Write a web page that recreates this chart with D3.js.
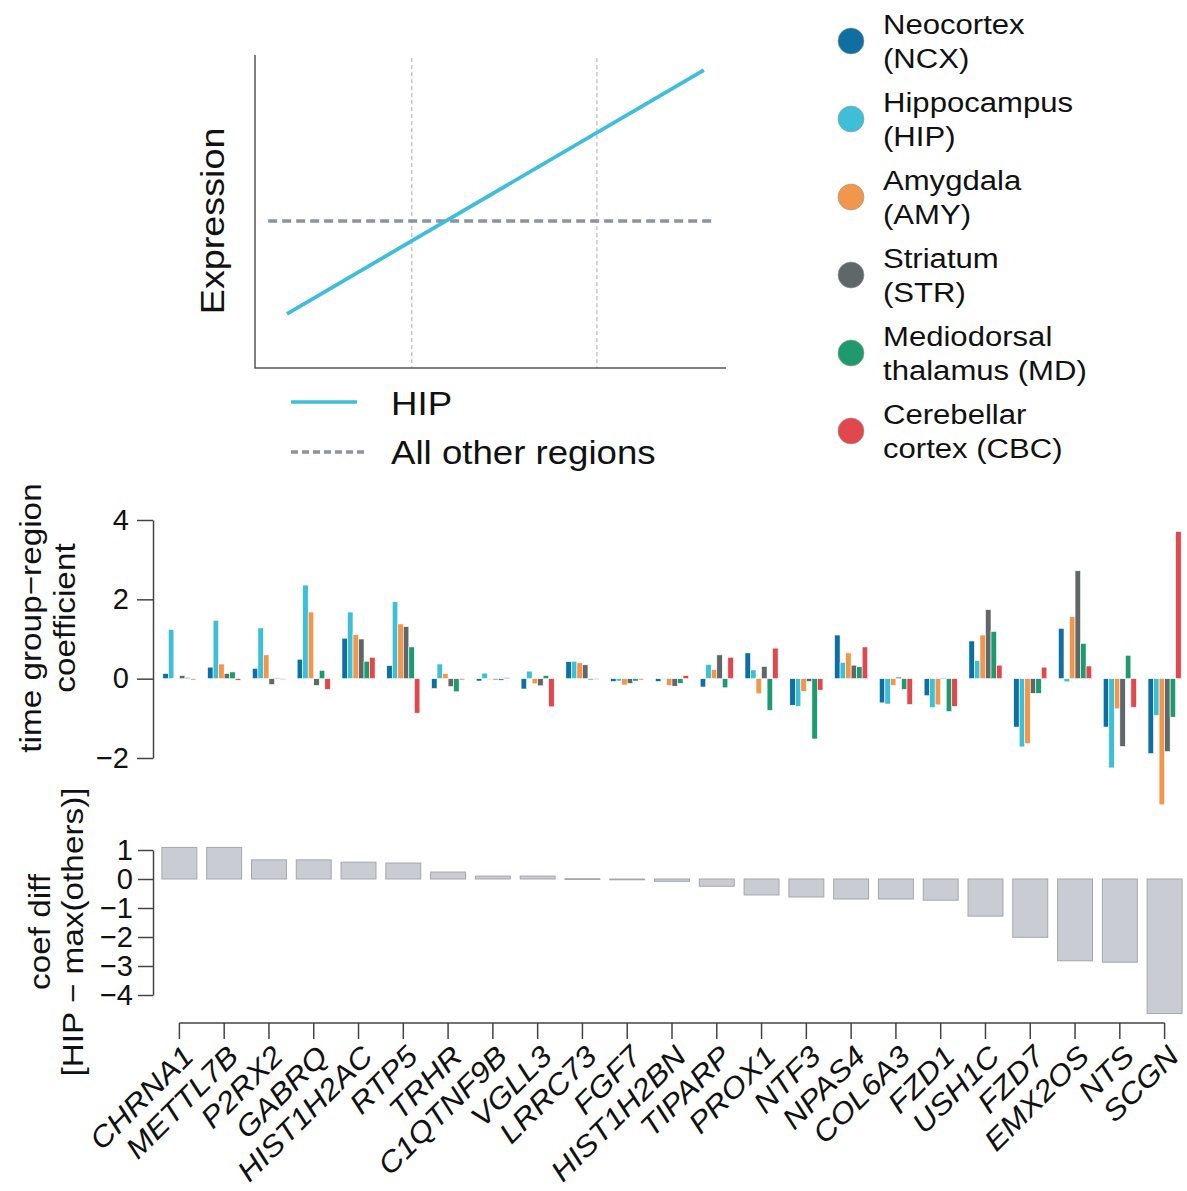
<!DOCTYPE html>
<html>
<head>
<meta charset="utf-8">
<script src="https://cdn.jsdelivr.net/npm/d3@7"></script>
<style>
  body { margin: 0; background: #fff; }
  text { font-family: "Liberation Sans", Arial, Helvetica, sans-serif; fill: #111; }
  .axis path, .axis line { stroke: #444; stroke-width: 1.5; }
</style>
</head>
<body>
<div id="chart"></div>
<script>
// genes along the x axis
var genes = ["CHRNA1", "METTL7B", "P2RX2", "GABRQ", "HIST1H2AC", "RTP5", "TRHR", "C1QTNF9B",
  "VGLL3", "LRRC73", "FGF7", "HIST1H2BN", "TIPARP", "PROX1", "NTF3", "NPAS4", "COL6A3",
  "FZD1", "USH1C", "FZD7", "EMX2OS", "NTS", "SCGN"];

// regions and legend labels
var regions = ["NCX", "HIP", "AMY", "STR", "MD", "CBC"];
var regionLines = [["Neocortex", "(NCX)"], ["Hippocampus", "(HIP)"], ["Amygdala", "(AMY)"],
  ["Striatum", "(STR)"], ["Mediodorsal", "thalamus (MD)"], ["Cerebellar", "cortex (CBC)"]];
var regionColors = ["#0f6fa0", "#3ebfd7", "#f0974b", "#5f6769", "#1f9a6f", "#e0484d"];

// time group-region coefficient per region (same order as genes)
var ncx = [0.13, 0.29, 0.26, 0.49, 1.02, 0.33, -0.25, -0.06, -0.26, 0.43, -0.07, -0.07, -0.21, 0.65, -0.67, 1.10, -0.61, -0.43, 0.95, -1.22, 1.27, -1.22, -1.89];
var hip = [1.24, 1.47, 1.28, 2.36, 1.68, 1.94, 0.37, 0.14, 0.19, 0.44, -0.06, -0.02, 0.36, 0.22, -0.70, 0.41, -0.64, -0.73, 0.46, -1.72, -0.08, -2.25, -0.93];
var amy = [-0.01, 0.37, 0.60, 1.68, 1.11, 1.38, 0.13, -0.02, -0.13, 0.40, -0.16, -0.17, 0.23, -0.38, -0.32, 0.65, -0.17, -0.66, 1.10, -1.64, 1.56, -0.76, -3.18];
var str = [0.08, 0.13, -0.15, -0.17, 1.00, 1.31, -0.20, -0.03, -0.18, 0.35, -0.12, -0.19, 0.60, 0.31, -0.07, 0.34, 0.04, 0.02, 1.74, -0.37, 2.72, -1.71, -1.84];
var md = [0.03, 0.17, 0.02, 0.21, 0.44, 0.80, -0.33, -0.04, 0.08, -0.03, -0.06, -0.12, -0.23, -0.80, -1.52, 0.30, -0.27, -0.83, 1.19, -0.37, 0.89, 0.59, -0.97];
var cbc = [-0.03, -0.04, -0.02, -0.27, 0.54, -0.87, -0.03, 0.03, -0.71, -0.02, -0.03, 0.08, 0.54, 0.77, -0.29, 0.80, -0.65, -0.70, 0.34, 0.29, 0.32, -0.72, 3.71];
var coefs = [ncx, hip, amy, str, md, cbc];

// coef diff: HIP - max(others)
var coefDiff = [1.09, 1.09, 0.66, 0.66, 0.58, 0.55, 0.24, 0.10, 0.10, 0.01, -0.01, -0.08, -0.25, -0.55, -0.62, -0.69, -0.69, -0.73, -1.28, -2.01, -2.82, -2.87, -4.64];

// tick labels
var topTicks = [-2, 0, 2, 4];
var bottomTicks = [-4, -3, -2, -1, 0, 1];

// schematic (relative units 0..1)
var hipLineX = [0.068, 0.953];
var hipLineY = [0.173, 0.952];
var othersX = [0.028, 0.972];
var othersY = [0.47, 0.47];
var timeBreaks = [0.333, 0.726];

var svgWidth = 1187;
var svgHeight = 1191;
var font = "'Liberation Sans', Arial, Helvetica, sans-serif";
// the original lettering is a bit wider than Arial
var stretch = "scale(1.11, 1)";

var svg = d3.select("#chart").append("svg")
  .attr("width", svgWidth)
  .attr("height", svgHeight);

// ---------- schematic ----------
var sx = d3.scaleLinear().domain([0, 1]).range([255, 726]);
var sy = d3.scaleLinear().domain([0, 1]).range([368, 55]);
var schem = svg.append("g");

timeBreaks.forEach(function(t) {
  schem.append("line")
    .attr("x1", sx(t)).attr("x2", sx(t))
    .attr("y1", sy(0.99)).attr("y2", sy(0))
    .attr("stroke", "#aaa").attr("stroke-width", 1)
    .attr("stroke-dasharray", "4,3");
});

schem.append("path")
  .attr("d", `M${sx(0)},${sy(1)}V${sy(0)}H${sx(1)}`)
  .attr("fill", "none").attr("stroke", "#555").attr("stroke-width", 1.5);

schem.append("line")
  .attr("x1", sx(othersX[0])).attr("x2", sx(othersX[1]))
  .attr("y1", sy(othersY[0])).attr("y2", sy(othersY[1]))
  .attr("stroke", "#8a949e").attr("stroke-width", 3.5)
  .attr("stroke-dasharray", "9,5");

schem.append("line")
  .attr("x1", sx(hipLineX[0])).attr("x2", sx(hipLineX[1]))
  .attr("y1", sy(hipLineY[0])).attr("y2", sy(hipLineY[1]))
  .attr("stroke", regionColors[1]).attr("stroke-width", 3.8);

schem.append("text")
  .attr("transform", `translate(${224}, ${sy(0.47)}) rotate(-90) ${stretch}`)
  .attr("text-anchor", "middle")
  .style("font-size", "34px")
  .text("Expression");

// schematic legend
schem.append("line")
  .attr("x1", 291).attr("x2", 357).attr("y1", 402).attr("y2", 402)
  .attr("stroke", regionColors[1]).attr("stroke-width", 3.5);
schem.append("text").attr("transform", `translate(391, 415) ${stretch}`)
  .style("font-size", "33px").text("HIP");
schem.append("line")
  .attr("x1", 291).attr("x2", 364).attr("y1", 452).attr("y2", 452)
  .attr("stroke", "#8a949e").attr("stroke-width", 3.5)
  .attr("stroke-dasharray", "7,4");
schem.append("text").attr("transform", `translate(391, 464) ${stretch}`)
  .style("font-size", "33px").text("All other regions");

// ---------- region legend ----------
var legend = svg.append("g").selectAll("g")
  .data(regions)
  .enter()
  .append("g")
  .attr("transform", (d, i) => `translate(851, ${41 + i * 78})`);

legend.append("circle")
  .attr("r", 13)
  .attr("fill", (d, i) => regionColors[i])
  .attr("stroke", "#999").attr("stroke-width", 0.6);

legend.append("text")
  .attr("transform", `translate(32, -7) ${stretch}`)
  .style("font-size", "28px")
  .text((d, i) => regionLines[i][0]);
legend.append("text")
  .attr("transform", `translate(32, 27) ${stretch}`)
  .style("font-size", "28px")
  .text((d, i) => regionLines[i][1]);

// ---------- grouped bar chart ----------
var x0 = d3.scaleBand().domain(genes).range([157, 1187]).paddingInner(0.26).paddingOuter(0.13);
var x1 = d3.scaleBand().domain(regions).range([0, x0.bandwidth()]);
var yTop = d3.scaleLinear().domain([-2, 4]).range([758, 520]);

var topAxis = svg.append("g")
  .attr("class", "axis")
  .attr("transform", "translate(153, 0)")
  .call(d3.axisLeft(yTop).tickValues(topTicks).tickFormat(d3.format("d"))
    .tickSize(16).tickSizeOuter(0).tickPadding(8));
topAxis.selectAll("text").style("font-size", "29px").style("font-family", font).attr("fill", "#111");

var groups = svg.append("g").selectAll("g")
  .data(genes)
  .enter()
  .append("g")
  .attr("transform", d => `translate(${x0(d)}, 0)`);

groups.selectAll("rect")
  .data((g, gi) => regions.map((r, ri) => ({ region: r, ri: ri, value: coefs[ri][gi] })))
  .enter()
  .append("rect")
  .attr("x", d => x1(d.region))
  .attr("width", x1.bandwidth())
  .attr("y", d => yTop(Math.max(0, d.value)))
  .attr("height", d => Math.abs(yTop(d.value) - yTop(0)))
  .attr("fill", d => regionColors[d.ri])
  .attr("stroke", "#fff")
  .attr("stroke-width", 0.6);

svg.append("text")
  .attr("transform", `translate(0, 618) rotate(-90) ${stretch}`)
  .attr("text-anchor", "middle")
  .style("font-size", "30px")
  .selectAll("tspan")
  .data(["time group\u2212region", "coefficient"])
  .enter()
  .append("tspan")
  .attr("x", 0)
  .attr("y", (d, i) => 41 + i * 34)
  .text(d => d);

// ---------- coef diff bar chart ----------
var xb = d3.scaleBand().domain(genes).range([157, 1187]).paddingInner(0.22).paddingOuter(0.11);
var yBot = d3.scaleLinear().domain([-4, 1]).range([995, 850]);

var botAxis = svg.append("g")
  .attr("class", "axis")
  .attr("transform", "translate(153, 0)")
  .call(d3.axisLeft(yBot).tickValues(bottomTicks).tickFormat(d3.format("d"))
    .tickSize(15).tickSizeOuter(0).tickPadding(5));
botAxis.selectAll("text").style("font-size", "29px").style("font-family", font).attr("fill", "#111");

svg.append("g").selectAll("rect")
  .data(genes)
  .enter()
  .append("rect")
  .attr("x", d => xb(d))
  .attr("width", xb.bandwidth())
  .attr("y", (d, i) => yBot(Math.max(0, coefDiff[i])))
  .attr("height", (d, i) => Math.max(0.8, Math.abs(yBot(coefDiff[i]) - yBot(0))))
  .attr("fill", "#c9cdd3")
  .attr("stroke", "#a3a7ac")
  .attr("stroke-width", 1);

svg.append("text")
  .attr("transform", `translate(0, 932) rotate(-90) ${stretch}`)
  .attr("text-anchor", "middle")
  .style("font-size", "30px")
  .selectAll("tspan")
  .data(["coef diff", "[HIP \u2212 max(others)]"])
  .enter()
  .append("tspan")
  .attr("x", 0)
  .attr("y", (d, i) => 50 + i * 33)
  .text(d => d);

// ---------- gene axis ----------
var geneAxis = svg.append("g").attr("transform", "translate(0, 1023)");
var centers = genes.map(g => xb(g) + xb.bandwidth() / 2);

geneAxis.append("line")
  .attr("x1", d3.min(centers)).attr("x2", d3.max(centers))
  .attr("stroke", "#444").attr("stroke-width", 1.5);

geneAxis.selectAll(".tick")
  .data(genes)
  .enter()
  .append("line")
  .attr("x1", d => xb(d) + xb.bandwidth() / 2)
  .attr("x2", d => xb(d) + xb.bandwidth() / 2)
  .attr("y1", 0).attr("y2", 16)
  .attr("stroke", "#444").attr("stroke-width", 1.5);

geneAxis.selectAll(".label")
  .data(genes)
  .enter()
  .append("text")
  .attr("transform", d => `translate(${xb(d) + xb.bandwidth() / 2 + 16}, 35) rotate(-45) ${stretch}`)
  .attr("text-anchor", "end")
  .style("font-size", "29px")
  .style("font-style", "italic")
  .text(d => d);
</script>
</body>
</html>
